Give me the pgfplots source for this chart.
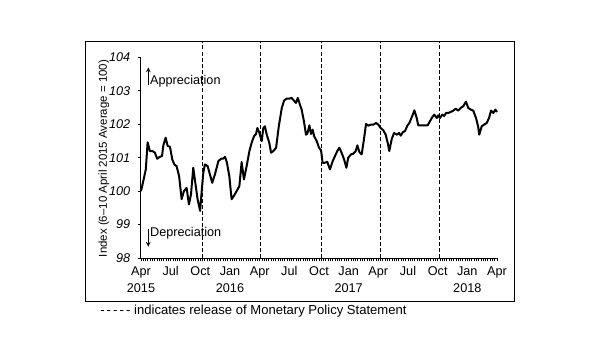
\documentclass[border=0pt]{standalone}
\usepackage{pgfplots}
\pgfplotsset{compat=1.18}
\usepackage{pgfplotstable}
\usepackage{fontspec}
\setmainfont{Liberation Sans}
\pgfplotstableread{
w v
0.0 100.00
1.0 100.30
2.1 100.65
2.9 101.46
3.9 101.20
5.0 101.20
6.1 101.15
7.1 100.97
8.3 101.03
9.2 101.05
9.8 101.37
10.8 101.60
11.7 101.35
12.7 101.33
13.7 100.95
14.6 100.80
15.6 100.75
16.7 100.45
17.8 99.76
18.8 100.00
20.0 100.10
21.0 99.60
21.9 99.90
22.9 100.70
24.0 100.15
24.8 99.76
25.9 99.41
26.6 100.00
27.3 100.55
28.0 100.80
29.2 100.75
30.2 100.50
31.2 100.25
32.4 100.50
33.9 100.90
35.1 100.97
35.9 100.97
36.8 101.03
37.6 100.87
38.7 100.45
39.7 99.76
40.9 99.88
41.9 100.00
43.1 100.15
44.1 100.87
45.1 100.35
46.3 100.75
47.5 101.20
48.5 101.45
49.5 101.64
50.4 101.71
51.0 101.89
51.8 101.76
52.9 101.50
53.6 101.89
54.3 101.94
55.1 101.69
56.2 101.45
57.0 101.15
58.0 101.20
59.2 101.30
60.4 101.95
61.7 102.49
62.7 102.71
63.8 102.77
65.0 102.77
66.0 102.79
67.0 102.71
67.9 102.64
68.7 102.79
69.4 102.64
70.4 102.44
71.4 102.09
72.3 101.69
72.9 101.72
73.8 101.97
74.5 101.71
75.2 101.84
75.9 101.64
77.0 101.50
78.0 101.30
78.9 101.22
79.6 100.85
80.6 100.85
81.6 100.88
82.8 100.65
84.0 100.90
85.0 101.05
86.0 101.20
86.9 101.30
87.9 101.15
89.0 100.95
90.0 100.70
90.8 101.00
92.0 101.10
93.0 101.12
94.1 101.20
94.8 101.37
95.7 101.17
96.7 101.10
97.7 101.55
98.6 102.01
99.6 101.96
100.7 101.99
101.8 101.99
103.0 102.04
104.0 101.99
105.0 101.89
106.2 101.82
107.2 101.69
108.1 101.45
108.8 101.20
109.9 101.57
110.9 101.74
112.1 101.69
113.1 101.74
113.8 101.66
114.7 101.76
115.7 101.80
116.7 101.96
117.6 102.04
119.1 102.29
119.8 102.42
120.8 102.19
121.5 101.97
123.0 101.97
124.3 101.97
125.6 101.97
126.6 102.09
127.6 102.21
128.5 102.29
129.6 102.19
130.3 102.27
131.0 102.19
132.0 102.29
132.8 102.25
133.7 102.34
134.7 102.34
135.7 102.37
136.9 102.41
137.9 102.47
139.0 102.41
140.1 102.49
141.2 102.54
142.4 102.68
143.4 102.49
144.5 102.44
145.6 102.41
146.8 102.19
147.8 101.91
148.2 101.69
149.3 101.94
150.3 101.99
151.5 102.04
152.5 102.19
153.4 102.41
154.4 102.34
155.3 102.44
156.0 102.37
}\idx
\begin{document}
\begin{tikzpicture}
\useasboundingbox (-105.75pt,-77.25pt) rectangle (344.25pt,193.5pt);
\draw[line width=0.75pt] (-41.25pt,-32.25pt) rectangle (279.75pt,162pt);
\begin{axis}[
  at={(0,0)}, anchor=south west,
  scale only axis, width=267pt, height=150.4pt,
  xmin=0, xmax=156, ymin=98, ymax=104,
  axis x line=bottom, axis y line=left,
  axis line style={-, line width=0.75pt},
  clip=false,
  font=\fontsize{9.5}{11}\selectfont,
  xtick={0,13,...,156},
  xticklabels={Apr,Jul,Oct,Jan,Apr,Jul,Oct,Jan,Apr,Jul,Oct,Jan,Apr},
  minor x tick num=12,
  ytick={98,99,...,104},
  tick align=outside,
  major tick length=2.5pt, minor tick length=2.5pt,
  tick style={line width=0.6pt, black},
  /pgf/number format/assume math mode=true,
  yticklabel style={font=\fontsize{9.5}{11}\selectfont\itshape, xshift=-2pt},
  xticklabel style={yshift=-0.5pt},
  ylabel={Index (6--10 April 2015 Average = 100)},
  ylabel style={at={(axis description cs:-0.104,0.496)}, anchor=center, font=\fontsize{8.6}{10}\selectfont},
]
\foreach \d in {26.9,52.5,79.0,104.9,130.7}{
  \edef\tmp{\noexpand\draw[line width=0.75pt, dash pattern=on 3pt off 1.6pt] (axis cs:\d,98) -- (axis cs:\d,104.46);}
  \tmp
}
\addplot[black, line width=1.5pt, line join=round] table[x=w,y=v] {\idx};
\draw[->, >=stealth, line width=0.6pt] (axis cs:3.2,103.18) -- (axis cs:3.2,103.7);
\node[anchor=west, inner sep=0pt] at (axis cs:3.9,103.28) {Appreciation};
\draw[->, >=stealth, line width=0.6pt] (axis cs:3.2,98.88) -- (axis cs:3.2,98.34);
\node[anchor=west, inner sep=0pt] at (axis cs:3.9,98.74) {Depreciation};
\node[inner sep=0pt] at (axis cs:0,98) [yshift=-22.5pt] {2015};
\node[inner sep=0pt] at (axis cs:39,98) [yshift=-22.5pt] {2016};
\node[inner sep=0pt] at (axis cs:91,98) [yshift=-22.5pt] {2017};
\node[inner sep=0pt] at (axis cs:143,98) [yshift=-22.5pt] {2018};
\end{axis}
\node[anchor=west, inner sep=0pt, font=\fontsize{9.8}{11}\selectfont] at (-30.75pt,-39.75pt) {-\kern1.6pt-\kern1.6pt-\kern1.6pt-\kern1.6pt- indicates release of Monetary Policy Statement};
\end{tikzpicture}
\end{document}
